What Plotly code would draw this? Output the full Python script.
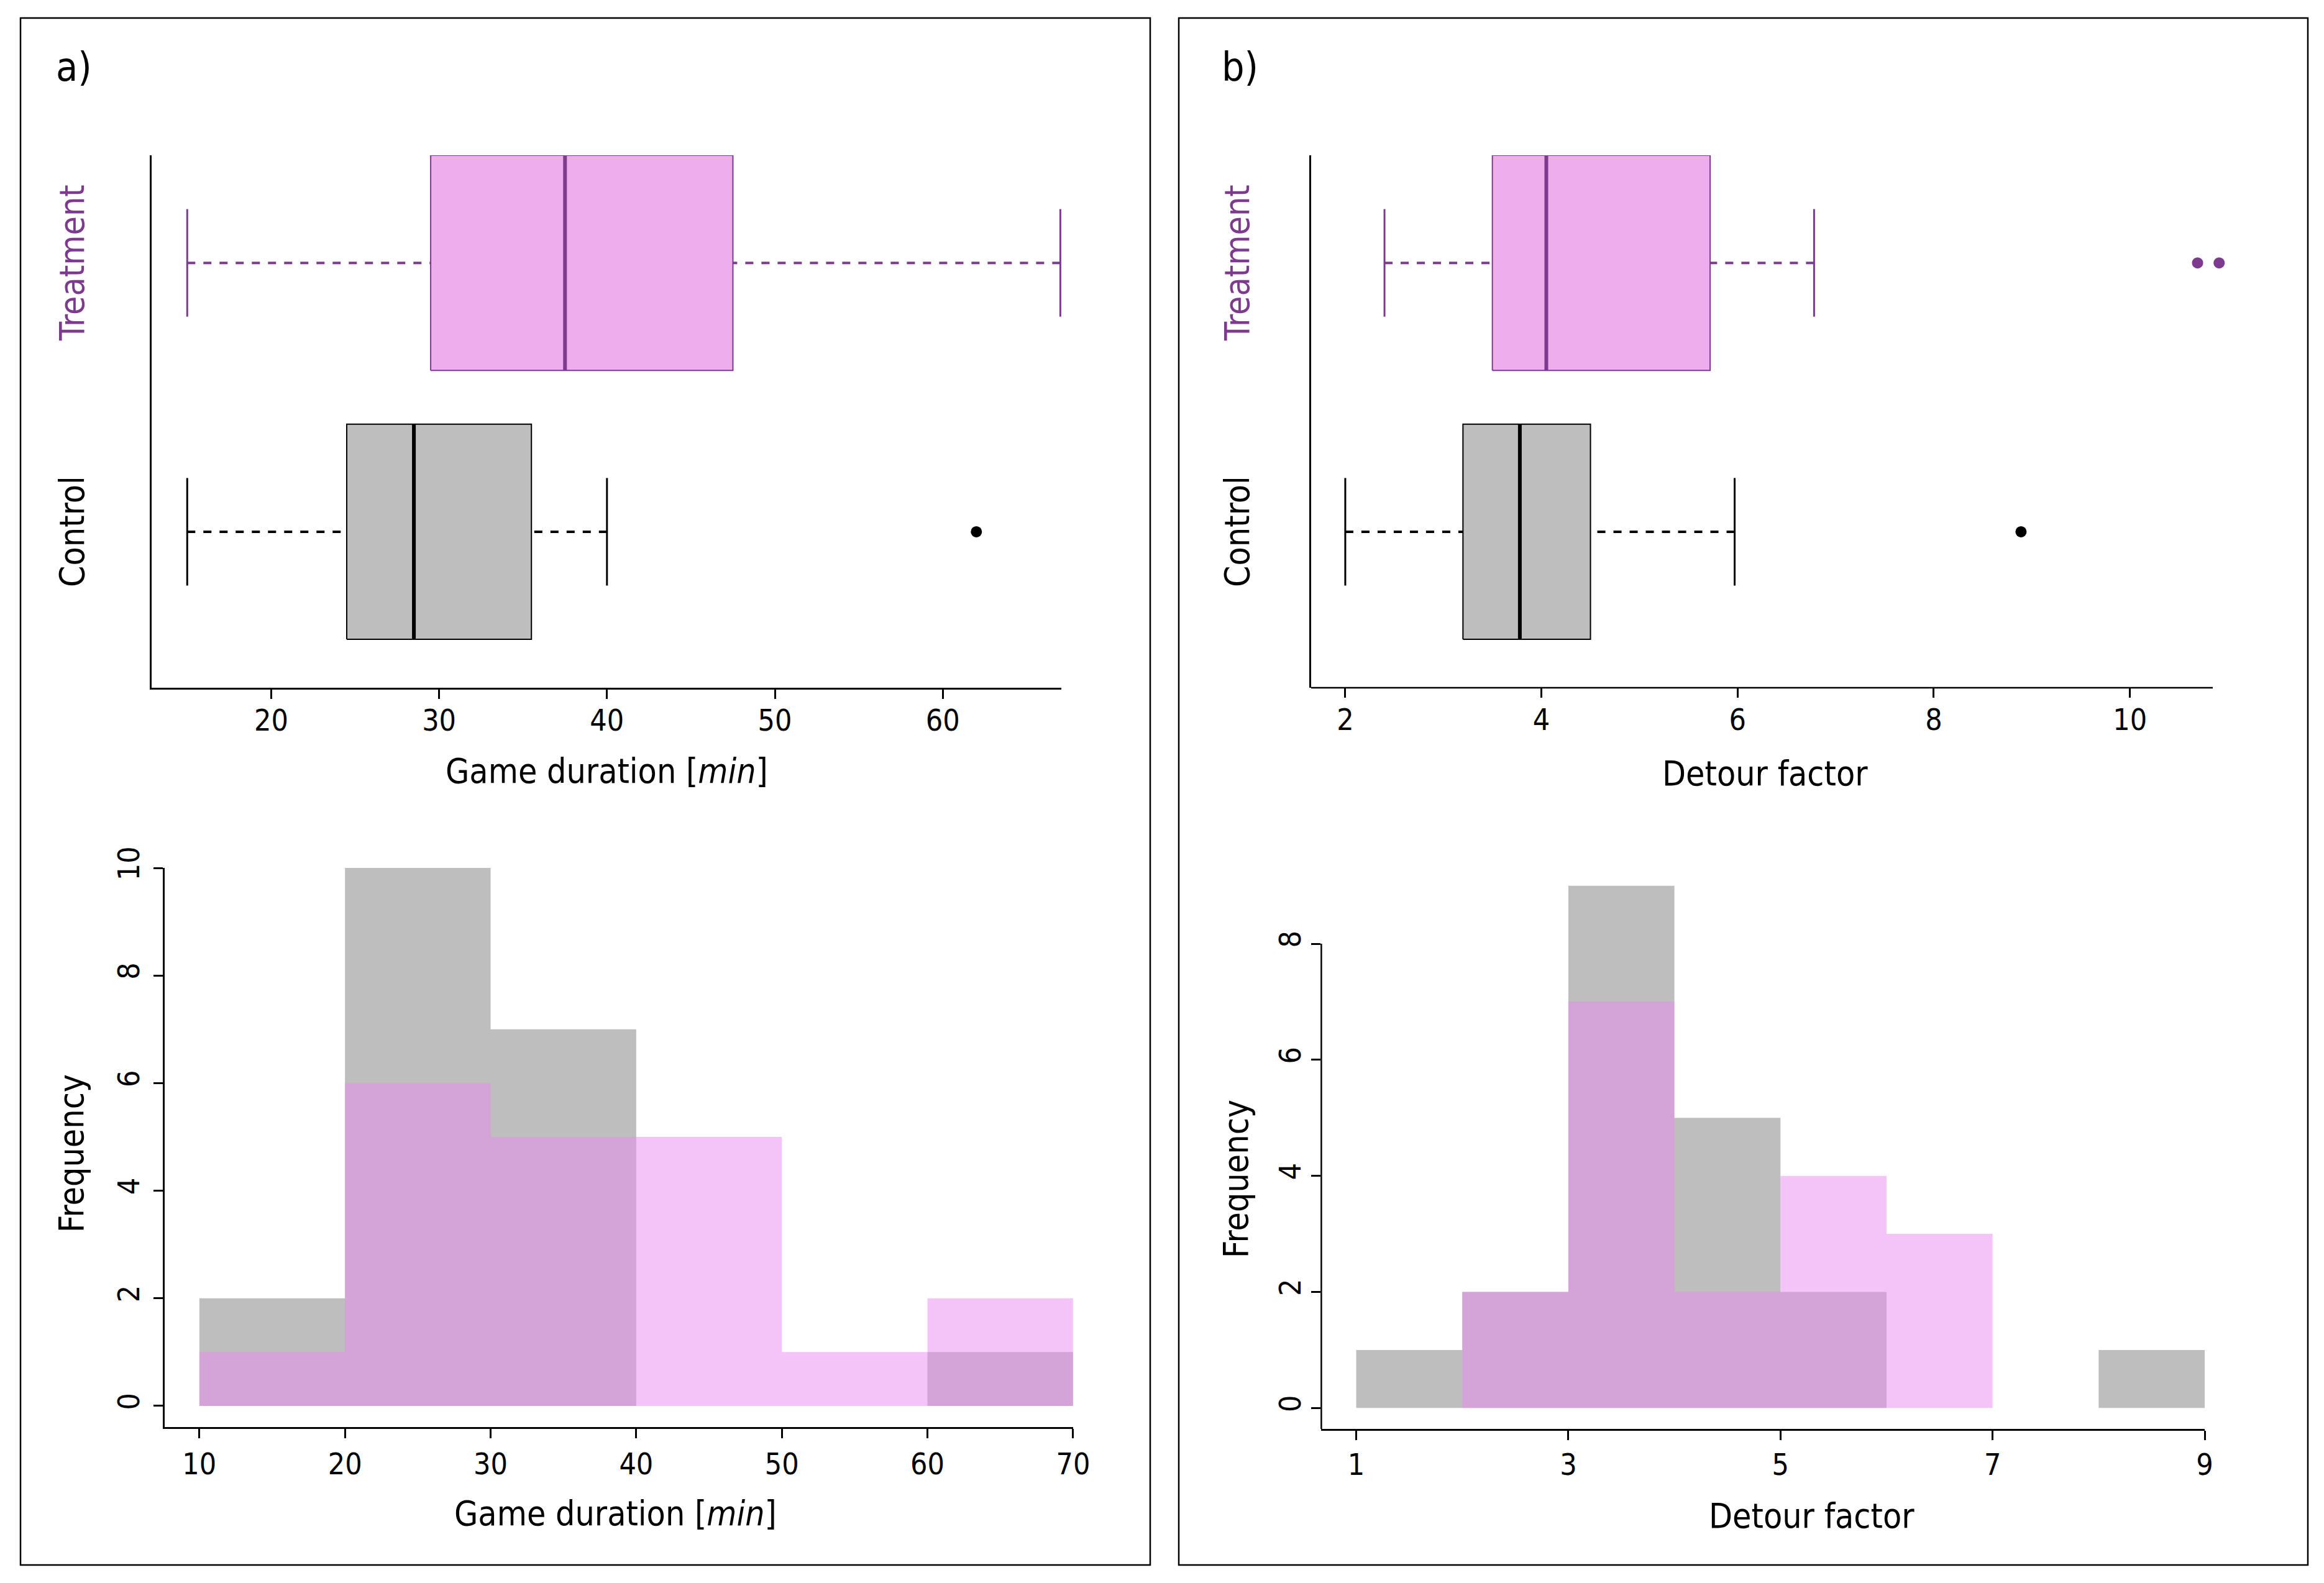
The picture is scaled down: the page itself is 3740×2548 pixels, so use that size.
import plotly.graph_objects as go

W, H = 3740, 2548

# ---------------- data ----------------
groups = ["Control", "Treatment"]
group_pos = [1, 2]

# a) Game duration [min] - boxplot statistics
dur_lo = [15, 15]
dur_q1 = [24.5, 29.5]
dur_med = [28.5, 37.5]
dur_q3 = [35.5, 47.5]
dur_hi = [40, 67]
dur_out = [[62], []]

# b) Detour factor - boxplot statistics
det_lo = [2.0, 2.4]
det_q1 = [3.2, 3.5]
det_med = [3.78, 4.05]
det_q3 = [4.5, 5.72]
det_hi = [5.97, 6.78]
det_out = [[8.89], [10.69, 10.91]]

# histograms
dur_edges = [10, 20, 30, 40, 50, 60, 70]
dur_hist_control = [2, 10, 7, 0, 0, 1]
dur_hist_treatment = [1, 6, 5, 5, 1, 2]

det_edges = [1, 2, 3, 4, 5, 6, 7, 8, 9]
det_hist_control = [1, 2, 9, 5, 2, 0, 0, 1]
det_hist_treatment = [0, 2, 7, 2, 4, 3, 0, 0]

dur_ticks = [20, 30, 40, 50, 60]
det_ticks = [2, 4, 6, 8, 10]
dur_hist_xticks = [10, 20, 30, 40, 50, 60, 70]
dur_hist_yticks = [0, 2, 4, 6, 8, 10]
det_hist_xticks = [1, 3, 5, 7, 9]
det_hist_yticks = [0, 2, 4, 6, 8]

# ---------------- styles ----------------
FONT = "DejaVu Sans Condensed, Liberation Sans Narrow, DejaVu Sans, sans-serif"
PURPLE = "#7D3A8E"
fills = {"Control": "#BEBEBE", "Treatment": "#EEAEEE"}
lines = {"Control": "black", "Treatment": PURPLE}
HIST_GRAY = "#BEBEBE"
HIST_PINK = "rgba(233,137,243,0.5)"

BOXW = 0.4   # half box width (data units)
STAP = 0.2   # half staple width


def px_x(p):
    return p / W


def px_y(p):
    return 1 - p / H


fig = go.Figure()


def add_boxes(xa, ya, lo, q1, med, q3, hi, outs):
    for i, g in enumerate(groups):
        p = group_pos[i]
        col = lines[g]
        fig.add_trace(go.Scatter(
            x=[q1[i], q3[i], q3[i], q1[i], q1[i]],
            y=[p - BOXW, p - BOXW, p + BOXW, p + BOXW, p - BOXW],
            mode="lines", fill="toself", fillcolor=fills[g],
            line=dict(color=col, width=2), xaxis=xa, yaxis=ya,
            hoverinfo="skip"))
        fig.add_trace(go.Scatter(
            x=[lo[i], q1[i], None, hi[i], q3[i]],
            y=[p, p, None, p, p],
            mode="lines", line=dict(color=col, width=4, dash="13px,13px"),
            xaxis=xa, yaxis=ya, hoverinfo="skip"))
        fig.add_trace(go.Scatter(
            x=[lo[i], lo[i], None, hi[i], hi[i]],
            y=[p - STAP, p + STAP, None, p - STAP, p + STAP],
            mode="lines", line=dict(color=col, width=3),
            xaxis=xa, yaxis=ya, hoverinfo="skip"))
        fig.add_trace(go.Scatter(
            x=[med[i], med[i]], y=[p - BOXW, p + BOXW],
            mode="lines", line=dict(color=col, width=6),
            xaxis=xa, yaxis=ya, hoverinfo="skip"))
        if outs[i]:
            fig.add_trace(go.Scatter(
                x=outs[i], y=[p] * len(outs[i]), mode="markers",
                marker=dict(color=col, size=18), cliponaxis=False,
                xaxis=xa, yaxis=ya, hoverinfo="skip"))


add_boxes("x", "y", dur_lo, dur_q1, dur_med, dur_q3, dur_hi, dur_out)
add_boxes("x2", "y2", det_lo, det_q1, det_med, det_q3, det_hi, det_out)


def add_hist(xa, ya, edges, counts, color):
    # histogram drawn as one filled step outline (no seams between bins)
    fig.add_trace(go.Scatter(
        x=list(edges), y=list(counts) + [counts[-1]],
        mode="lines", line=dict(shape="hv", width=0, color=color),
        fill="tozeroy", fillcolor=color,
        xaxis=xa, yaxis=ya, hoverinfo="skip"))


add_hist("x3", "y3", dur_edges, dur_hist_control, HIST_GRAY)
add_hist("x3", "y3", dur_edges, dur_hist_treatment, HIST_PINK)
add_hist("x4", "y4", det_edges, det_hist_control, HIST_GRAY)
add_hist("x4", "y4", det_edges, det_hist_treatment, HIST_PINK)

tickfont = dict(family=FONT, size=48, color="black")
common = dict(showgrid=False, zeroline=False, linecolor="black", linewidth=2.5,
              ticks="outside", ticklen=15, tickwidth=2.5, tickcolor="black",
              tickfont=tickfont, automargin=False)

box_y_dom = [px_y(1107), px_y(250)]

# box b: axis line ends at 10.845 (pixel 3561) but outliers go further right,
# so the plotting domain is extended with the same scale
bx0_px, bx1_px = 2110, 3561
bx_range = [1.652, 10.845]
bx_scale = (bx_range[1] - bx_range[0]) / (bx1_px - bx0_px)
bx_ext_px = 3640
bx_ext_range = [bx_range[0], bx_range[0] + (bx_ext_px - bx0_px) * bx_scale]

fig.update_layout(
    width=W, height=H,
    margin=dict(l=0, r=0, t=0, b=0, pad=0, autoexpand=False),
    paper_bgcolor="white", plot_bgcolor="rgba(0,0,0,0)", showlegend=False,
    xaxis=dict(domain=[px_x(244), px_x(1708)], range=[12.88, 67.06],
               tickvals=dur_ticks, showline=True, anchor="y",
               ticklabelstandoff=-6, **common),
    yaxis=dict(domain=box_y_dom, range=[0.42, 2.4], showline=True,
               showticklabels=False, ticks="", showgrid=False, zeroline=False,
               linecolor="black", linewidth=2.5, anchor="x"),
    xaxis2=dict(domain=[px_x(bx0_px), px_x(bx_ext_px)], range=bx_ext_range,
                tickvals=det_ticks, showline=False, anchor="y2",
                ticklabelstandoff=-6, **common),
    yaxis2=dict(domain=box_y_dom, range=[0.42, 2.4], showline=True,
                showticklabels=False, ticks="", showgrid=False, zeroline=False,
                linecolor="black", linewidth=2.5, anchor="x2"),
    xaxis3=dict(domain=[px_x(264.8), px_x(1726.9)], range=[7.61, 70],
                tickvals=dur_hist_xticks, showline=True, anchor="y3",
                ticklabelstandoff=1, **common),
    yaxis3=dict(domain=[px_y(2297), px_y(1397)], range=[-0.393, 10],
                tickvals=dur_hist_yticks, showline=True, anchor="x3",
                tickangle=-90, ticklabelstandoff=4, **common),
    xaxis4=dict(domain=[px_x(2126.4), px_x(3548)], range=[0.671, 9],
                tickvals=det_hist_xticks, showline=True, anchor="y4",
                ticklabelstandoff=-1, **common),
    yaxis4=dict(domain=[px_y(2300), px_y(1392)], range=[-0.36, 9.36],
                tickvals=det_hist_yticks, showline=False, anchor="x4",
                tickangle=-90, ticklabelstandoff=-2, **common),
)

# x axis line of box b (ends at the right edge of the plotting region)
fig.add_shape(type="line", xref="x2", yref="y2 domain", x0=bx_range[0],
              x1=bx_range[1], y0=0, y1=0, line=dict(color="black", width=2.5))
# y axis line of hist b only runs up to the last tick
fig.add_shape(type="line", xref="x4 domain", yref="y4", x0=0, x1=0,
              y0=-0.36, y1=det_hist_yticks[-1],
              line=dict(color="black", width=2.5))

# panel frames
for x0, x1 in [(33, 1851), (1897, 3714)]:
    fig.add_shape(type="rect", xref="paper", yref="paper",
                  x0=px_x(x0), x1=px_x(x1), y0=px_y(2519), y1=px_y(29),
                  line=dict(color="black", width=2.5), fillcolor="rgba(0,0,0,0)")

ann = []
TF = dict(family=FONT, size=55, color="black")
ann.append(dict(text="a)", x=px_x(88), y=px_y(108), xanchor="left", yanchor="middle",
                font=dict(family=FONT, size=64, color="black")))
ann.append(dict(text="b)", x=px_x(1964), y=px_y(108), xanchor="left", yanchor="middle",
                font=dict(family=FONT, size=64, color="black")))
for xc, ya in [(116, "y"), (1991, "y2")]:
    for i, g in enumerate(groups):
        ann.append(dict(text=g, x=px_x(xc), xref="paper", y=group_pos[i], yref=ya,
                        textangle=-90, xanchor="center", yanchor="middle",
                        font=dict(family=FONT, size=55, color=lines[g])))
ann.append(dict(text="Game duration [<i>min</i>]", x=px_x(976), y=px_y(1241),
                xanchor="center", yanchor="middle", font=TF))
ann.append(dict(text="Detour factor", x=px_x(2840), y=px_y(1245),
                xanchor="center", yanchor="middle", font=TF))
ann.append(dict(text="Game duration [<i>min</i>]", x=px_x(990), y=px_y(2436),
                xanchor="center", yanchor="middle", font=TF))
ann.append(dict(text="Detour factor", x=px_x(2915), y=px_y(2440),
                xanchor="center", yanchor="middle", font=TF))
ann.append(dict(text="Frequency", x=px_x(115), y=px_y(1857), textangle=-90,
                xanchor="center", yanchor="middle", font=TF))
ann.append(dict(text="Frequency", x=px_x(1989), y=px_y(1898), textangle=-90,
                xanchor="center", yanchor="middle", font=TF))
for a in ann:
    a.setdefault("xref", "paper")
    a.setdefault("yref", "paper")
    a["showarrow"] = False
fig.update_layout(annotations=ann)

fig.write_html("out.html",
               config={"displayModeBar": False},
               post_script="document.body.style.margin='0';"
                           "document.body.style.overflow='hidden';")
